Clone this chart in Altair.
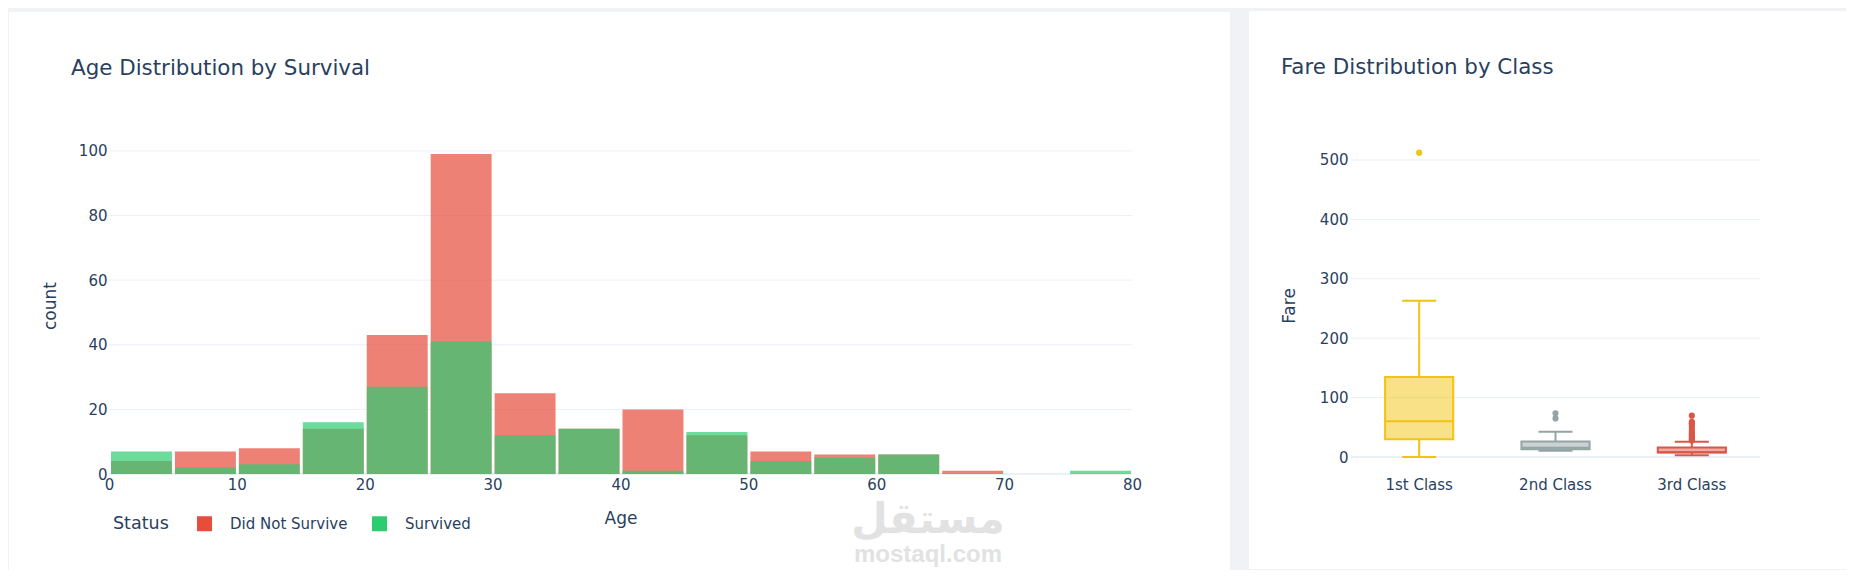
import altair as alt
import pandas as pd

# ---------------- data: age histogram ----------------
bin_starts = [0, 5, 10, 15, 20, 25, 30, 35, 40, 45, 50, 55, 60, 65, 70, 75]
bin_ends = [5, 10, 15, 20, 25, 30, 35, 40, 45, 50, 55, 60, 65, 70, 75, 80]
did_not_survive = [4, 7, 8, 14, 43, 99, 25, 14, 20, 12, 7, 6, 6, 1, 0, 0]
survived = [7, 2, 3, 16, 27, 41, 12, 14, 1, 13, 4, 5, 6, 0, 0, 1]
status_labels = ["Did Not Survive", "Survived"]
status_colors = ["#e74c3c", "#2ecc71"]
count_ticks = [0, 20, 40, 60, 80, 100]
age_ticks = [0, 10, 20, 30, 40, 50, 60, 70, 80]

# ---------------- data: fare box plot ----------------
classes = ["1st Class", "2nd Class", "3rd Class"]
class_colors = ["#f1c40f", "#95a5a6", "#d95749"]
fare_low = [0.0, 10.5, 3.17]
fare_q1 = [30.0, 13.0, 7.75]
fare_median = [60.0, 15.75, 8.05]
fare_q3 = [134.5, 26.0, 16.1]
fare_high = [263.0, 42.5, 25.5]
outliers_1st = [512.33]
outliers_2nd = [65.0, 73.5]
outliers_3rd = [69.55, 59.4, 56.5, 55.9, 51.86, 46.9, 42.4, 39.69, 36.75, 34.38, 31.39, 29.13, 27.9]
fare_ticks = [0, 100, 200, 300, 400, 500]

TEXT = "#2a3f5f"
GRID = "#ebf0f8"
BG = "#f0f2f6"
FONT = "DejaVu Sans"

W1, W2, H = 1023, 409, 337

# ---------------- tables ----------------
hist_rows = []
for lab, vals in zip(status_labels, [did_not_survive, survived]):
    for s, e, v in zip(bin_starts, bin_ends, vals):
        hist_rows.append({"status": lab, "start": s, "end": e, "count": v})
hist_df = pd.DataFrame(hist_rows)

one = pd.DataFrame({"k": [0]})

y_axis1 = alt.Axis(values=count_ticks, grid=False, domain=False, ticks=False, tickSize=0,
                   labelPadding=2, title="count", titleX=-59, titleY=H / 2, titleAngle=270,
                   titleAlign="center", titleBaseline="middle", zindex=1)
y_scale1 = alt.Scale(domain=[0, 104.3], nice=False, zero=False)
x_axis1 = alt.Axis(values=age_ticks, grid=False, domain=False, ticks=False, tickSize=0,
                   labelPadding=3, title="Age", titleY=44, titleBaseline="middle", labelFlush=False,
                   labelOverlap=False, zindex=1)
x_scale1 = alt.Scale(domain=[0, 80], nice=False, zero=False)

card1 = alt.Chart(one).mark_rect(color="white").encode(
    x=alt.value(-100), x2=alt.value(W1 + 98), y=alt.value(-125), y2=alt.value(433))

grid1 = alt.Chart(pd.DataFrame({"count": count_ticks[1:]})).mark_rule(
    color=GRID, strokeWidth=1).encode(y=alt.Y("count:Q", scale=y_scale1, axis=y_axis1))
zero1 = alt.Chart(pd.DataFrame({"count": count_ticks[:1]})).mark_rule(
    color=GRID, strokeWidth=2).encode(y=alt.Y("count:Q", scale=y_scale1, axis=y_axis1))

bars = alt.Chart(hist_df).mark_bar(opacity=0.7, binSpacing=3).encode(
    x=alt.X("start:Q", bin="binned", scale=x_scale1, axis=x_axis1),
    x2="end:Q",
    y=alt.Y("count:Q", stack=None, scale=y_scale1, axis=y_axis1),
    color=alt.Color("status:N", scale=alt.Scale(domain=status_labels, range=status_colors),
                    legend=alt.Legend(title="Status", orient="none", legendX=4, legendY=379,
                                      direction="horizontal", titleOrient="left",
                                      symbolType="square", symbolSize=225, symbolOpacity=1,
                                      symbolStrokeWidth=0, labelFontSize=15, titleFontSize=17.5,
                                      labelColor=TEXT, titleColor=TEXT, titleFontWeight="normal",
                                      labelFont=FONT, titleFont=FONT, labelOffset=18,
                                      columnPadding=24, titlePadding=28, zindex=1)),
)

title1 = alt.Chart(one).mark_text(align="left", baseline="alphabetic", fontSize=21.4,
                                  color=TEXT, font=FONT).encode(
    x=alt.value(-38), y=alt.value(-62), text=alt.value("Age Distribution by Survival"))

wm1 = alt.Chart(one).mark_text(align="center", baseline="middle", fontSize=42, fontWeight="bold",
                               color="#e2e2e2", font=FONT).encode(
    x=alt.value(819), y=alt.value(383), text=alt.value("مستقل"))
wm2 = alt.Chart(one).mark_text(align="center", baseline="middle", fontSize=24, fontWeight="bold",
                               color="#e2e2e2", font="Liberation Sans").encode(
    x=alt.value(819), y=alt.value(418), text=alt.value("mostaql.com"))

left = alt.layer(card1, grid1, zero1, bars, title1, wm1, wm2).properties(width=W1, height=H)

# ---------------- right panel ----------------
box_df = pd.DataFrame({"cls": classes, "color": class_colors, "low": fare_low, "q1": fare_q1,
                       "median": fare_median, "q3": fare_q3, "high": fare_high})
out_rows = []
for c, col, vals in zip(classes, class_colors, [outliers_1st, outliers_2nd, outliers_3rd]):
    for v in vals:
        out_rows.append({"cls": c, "color": col, "fare": v})
out_df = pd.DataFrame(out_rows)

y_scale2 = alt.Scale(domain=[-28.6, 538.7], nice=False, zero=False)
y_axis2 = alt.Axis(values=fare_ticks, grid=False, domain=False, ticks=False, tickSize=0,
                   labelPadding=3, title="Fare", titleX=-62, titleY=H / 2, titleAngle=270,
                   titleAlign="center", titleBaseline="middle", zindex=1)
x_scale2 = alt.Scale(type="band", domain=classes, paddingInner=0, paddingOuter=0)
x_axis2 = alt.Axis(grid=False, domain=False, ticks=False, tickSize=0, labelPadding=3,
                   labelAngle=0, title=None, zindex=1)
xb = alt.X("cls:N", scale=x_scale2, axis=x_axis2)

card2 = alt.Chart(one).mark_rect(color="white").encode(
    x=alt.value(-102), x2=alt.value(W2 + 86), y=alt.value(-126), y2=alt.value(432))
grid2 = alt.Chart(pd.DataFrame({"fare": fare_ticks[1:]})).mark_rule(
    color=GRID, strokeWidth=1).encode(y=alt.Y("fare:Q", scale=y_scale2, axis=y_axis2))
zero2 = alt.Chart(pd.DataFrame({"fare": fare_ticks[:1]})).mark_rule(
    color=GRID, strokeWidth=2).encode(y=alt.Y("fare:Q", scale=y_scale2, axis=y_axis2))

whisk_hi = alt.Chart(box_df).mark_rule(strokeWidth=2).encode(
    x=xb, y=alt.Y("q3:Q", scale=y_scale2, axis=y_axis2, title="Fare"), y2="high:Q",
    color=alt.Color("color:N", scale=None))
whisk_lo = alt.Chart(box_df).mark_rule(strokeWidth=2).encode(
    x=xb, y=alt.Y("low:Q", scale=y_scale2, axis=y_axis2, title="Fare"), y2="q1:Q",
    color=alt.Color("color:N", scale=None))
cap_hi = alt.Chart(box_df).mark_tick(size=34, thickness=2, opacity=1).encode(
    x=xb, y=alt.Y("high:Q", scale=y_scale2, axis=y_axis2, title="Fare"),
    color=alt.Color("color:N", scale=None))
cap_lo = alt.Chart(box_df).mark_tick(size=34, thickness=2, opacity=1).encode(
    x=xb, y=alt.Y("low:Q", scale=y_scale2, axis=y_axis2, title="Fare"),
    color=alt.Color("color:N", scale=None))
box = alt.Chart(box_df).mark_bar(width=alt.RelativeBandSize(0.5), fillOpacity=0.5,
                                 strokeWidth=2).encode(
    x=xb, y=alt.Y("q1:Q", scale=y_scale2, axis=y_axis2, title="Fare"), y2="q3:Q",
    fill=alt.Fill("color:N", scale=None), stroke=alt.Stroke("color:N", scale=None))
med = alt.Chart(box_df).mark_tick(size=68, thickness=2, opacity=1).encode(
    x=xb, y=alt.Y("median:Q", scale=y_scale2, axis=y_axis2, title="Fare"),
    color=alt.Color("color:N", scale=None))
outs = alt.Chart(out_df).mark_circle(size=38, opacity=1).encode(
    x=xb, y=alt.Y("fare:Q", scale=y_scale2, axis=y_axis2),
    color=alt.Color("color:N", scale=None))

title2 = alt.Chart(one).mark_text(align="left", baseline="alphabetic", fontSize=21.4,
                                  color=TEXT, font=FONT).encode(
    x=alt.value(-70), y=alt.value(-63), text=alt.value("Fare Distribution by Class"))

right = alt.layer(card2, grid2, zero2, whisk_hi, whisk_lo, cap_hi, cap_lo, box, med, outs,
                  title2).properties(width=W2, height=H)

chart = alt.hconcat(left, right, spacing=19).resolve_scale(
    color="independent").resolve_legend(color="independent").properties(
    padding={"left": 1, "top": 3, "right": 0, "bottom": 0}, background=BG
).configure_view(stroke=None).configure_axis(
    labelFont=FONT, labelFontSize=15, labelColor=TEXT, titleFont=FONT, titleFontSize=17,
    titleColor=TEXT, titleFontWeight="normal")

chart.save("out.html", embed_options={"renderer": "svg", "actions": False})
